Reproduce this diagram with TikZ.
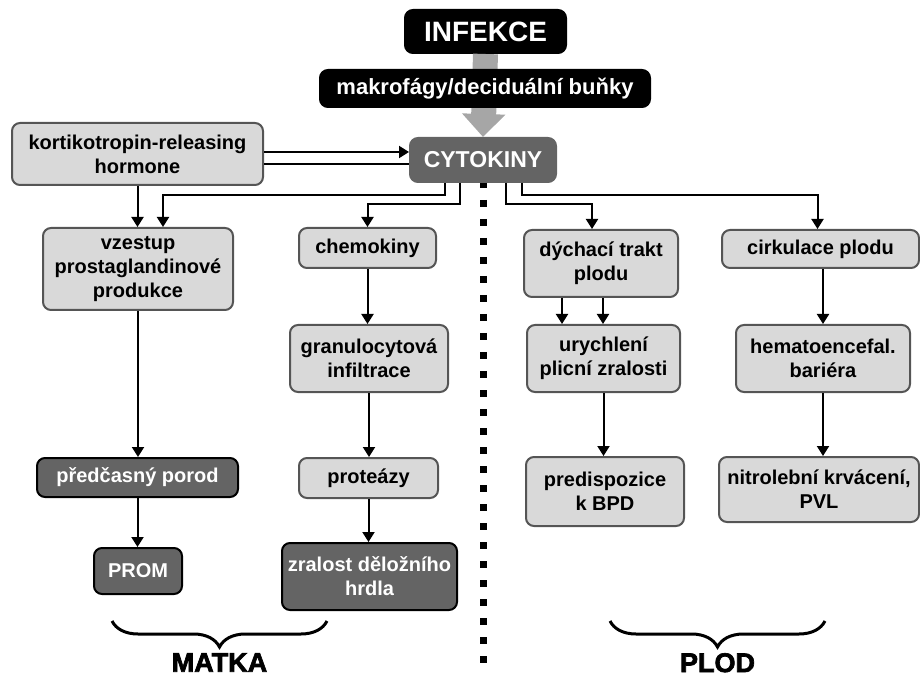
\documentclass[tikz,border=0pt]{standalone}
\usepackage{fontspec}
\setmainfont{Liberation Sans}
\newfontfamily\blackfont[FakeBold=2.5]{Liberation Sans Bold}
\usepackage{tikz}
\usetikzlibrary{
  arrows.meta,
  positioning,
  calc,
  backgrounds,
  decorations.pathreplacing
}
\definecolor{boxFill}{HTML}{D9D9D9}
\definecolor{boxLine}{HTML}{555555}
\definecolor{boxDark}{HTML}{646464}
\definecolor{bigArrow}{HTML}{A6A6A6}
\tikzset{
  cbox/.style={
    draw=boxLine, fill=boxFill, line width=1pt, rounded corners=4pt,
    inner sep=1pt, align=center, font=\bfseries\fontsize{10}{12}\selectfont
  },
  darkbox/.style={cbox, fill=boxDark, draw=black, text=white},
  blackbox/.style={cbox, fill=black, draw=black, text=white},
  conn/.style={-{Triangle[length=5pt,width=6pt]}, line width=1pt},
  link/.style={line width=1pt},
  fatarrow/.style={-{Triangle[length=11.5pt,width=21pt]}, line width=12.5pt, bigArrow},
  divider/.style={line width=3.5pt, dash pattern=on 3.5pt off 6pt},
  brace/.style={decorate, decoration={brace, mirror, amplitude=13pt}, line width=1.5pt},
  side/.style={font=\blackfont\fontsize{13.5}{15}\selectfont}
}
\begin{document}
\begin{tikzpicture}[x=0.5pt, y=-0.5pt]
  \useasboundingbox (0,0) rectangle (920,678);

  % top
  \node[blackbox, minimum width=80.5pt, minimum height=21.5pt, font=\bfseries\fontsize{14}{16}\selectfont] (infekce) at (485.5,31.5) {INFEKCE};
  \node[darkbox, draw=boxDark, minimum width=73pt, minimum height=22pt, font=\bfseries\fontsize{11.5}{13}\selectfont] (cyto) at (483,160) {CYTOKINY};
  \draw[fatarrow] (infekce.south) -- (cyto.north);
  \node[blackbox, minimum width=165pt, minimum height=18.5pt, font=\bfseries\fontsize{11}{13}\selectfont] (makro) at (485,88.5) {makrofágy/deciduální buňky};

  % matka
  \node[cbox, minimum width=125.5pt, minimum height=31pt] (krh) at (137.5,154) {kortikotropin-releasing\\hormone};
  \node[cbox, minimum width=95pt, minimum height=41pt] (vzestup) at (138,269) {vzestup\\prostaglandinové\\produkce};
  \node[darkbox, minimum width=100.5pt, minimum height=19.5pt] (porod) at (137.5,477.5) {předčasný porod};
  \node[darkbox, minimum width=44pt, minimum height=23pt] (prom) at (138,571) {PROM};
  \node[cbox, minimum width=68.5pt, minimum height=20pt] (chemo) at (367.5,248) {chemokiny};
  \node[cbox, minimum width=79pt, minimum height=33.5pt] (granulo) at (369,358.5) {granulocytová\\infiltrace};
  \node[cbox, minimum width=69.5pt, minimum height=20pt] (proteazy) at (368.5,478) {proteázy};
  \node[darkbox, minimum width=87.5pt, minimum height=33.5pt] (zralost) at (369.5,576.5) {zralost děložního\\hrdla};

  % plod
  \node[cbox, minimum width=77pt, minimum height=33.5pt] (dych) at (601,263.5) {dýchací trakt\\plodu};
  \node[cbox, minimum width=76.5pt, minimum height=33.5pt] (urych) at (603.5,358.5) {urychlení\\plicní zralosti};
  \node[cbox, minimum width=79pt, minimum height=34.5pt] (bpd) at (605,491.5) {predispozice\\k BPD};
  \node[cbox, minimum width=98.5pt, minimum height=19pt] (cirk) at (820.5,249) {cirkulace plodu};
  \node[cbox, minimum width=87pt, minimum height=33.5pt] (hemato) at (823,358.5) {hematoencefal.\\bariéra};
  \node[cbox, minimum width=100pt, minimum height=32.5pt] (nitro) at (819,489.5) {nitrolební krvácení,\\PVL};

  % divider
  \begin{pgfonlayer}{background}
    \draw[divider] (cyto.south) ++(0,-2) -- ++(0,484);
  \end{pgfonlayer}

  % connectors
  \coordinate (c1) at ($(cyto.west)+(0,-8)$);
  \coordinate (c2) at ($(cyto.west)+(0,4)$);
  \draw[conn] (c1 -| krh.east) -- (c1);
  \draw[link] (c2 -| krh.east) -- (c2);
  \draw[conn] (krh.south) -- (krh.south |- vzestup.north);
  \draw[conn] ($(cyto.south)+(-38,0)$) -- ++(0,12) -| ($(vzestup.north)+(25,0)$);
  \draw[conn] ($(cyto.south)+(-23,0)$) -- ++(0,21) -| (chemo.north);
  \draw[conn] ($(cyto.south)+(23,0)$) -- ++(0,21) -| ($(dych.north)+(-9,0)$);
  \draw[conn] ($(cyto.south)+(39,0)$) -- ++(0,12) -| ($(cirk.north)+(-3,0)$);

  \draw[conn] (vzestup.south) -- (vzestup.south |- porod.north);
  \draw[conn] (porod.south) -- (porod.south |- prom.north);
  \draw[conn] (chemo.south) -- (chemo.south |- granulo.north);
  \draw[conn] (granulo.south) -- (granulo.south |- proteazy.north);
  \draw[conn] (proteazy.south) -- (proteazy.south |- zralost.north);

  \coordinate (d1) at ($(dych.south)+(-39,0)$);
  \coordinate (d2) at ($(dych.south)+(2,0)$);
  \draw[conn] (d1) -- (d1 |- urych.north);
  \draw[conn] (d2) -- (d2 |- urych.north);
  \draw[conn] (urych.south) -- (urych.south |- bpd.north);
  \draw[conn] ($(cirk.south)+(2.5,0)$) -- (hemato.north);
  \draw[conn] (hemato.south) -- (hemato.south |- nitro.north);

  % braces
  \draw[brace] (112,621) -- (327,621) node[midway, below=12pt, side] (matka) {MATKA};
  \draw[brace] (610,621) -- (825,621) node[midway, below=12pt, side] (plod) {PLOD};
\end{tikzpicture}
\end{document}
